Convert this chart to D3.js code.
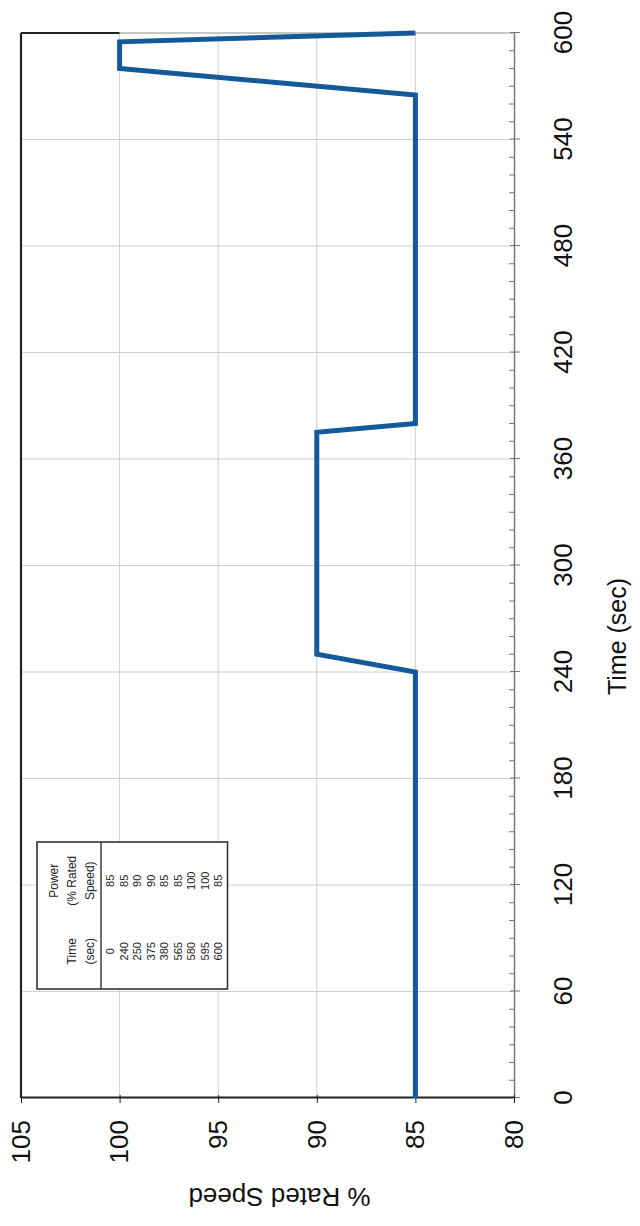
<!DOCTYPE html>
<html>
<head>
<meta charset="utf-8">
<script src="https://cdn.jsdelivr.net/npm/d3@7"></script>
<style>
  html, body { margin: 0; padding: 0; background: #fff; }
  svg { display: block; font-family: "Liberation Sans", Arial, sans-serif; }
</style>
</head>
<body>
<svg id="chart" width="640" height="1226"></svg>
<script>
// Speed schedule: time (sec) vs. power (% rated speed)
const timeSec = [0, 240, 250, 375, 380, 565, 580, 595, 600];
const ratedSpeed = [85, 85, 90, 90, 85, 85, 100, 100, 85];
const timeTicks = [0, 60, 120, 180, 240, 300, 360, 420, 480, 540, 600];
const speedTicks = [80, 85, 90, 95, 100, 105];
const headerTime = ["Time", "(sec)"];
const headerPower = ["Power", "(% Rated", "Speed)"];

const svg = d3.select("#chart");

// The chart is laid out in its natural orientation (time across, speed up)
// and then turned a quarter-turn counter-clockwise onto the page.
const W = 1065, H = 493;
const originX = 21, originY = 1098;
const g = svg.append("g")
  .attr("transform", `translate(${originX},${originY}) rotate(-90)`);

const x = d3.scaleLinear().domain([0, 600]).range([0, W]);
const y = d3.scaleLinear().domain([80, 105]).range([H, 0]);

const gridColor = "#cfcfcf";

// gridlines
g.append("g").selectAll("line.vg")
  .data(timeTicks.filter(t => t > 0 && t < 600))
  .join("line")
  .attr("x1", d => x(d)).attr("x2", d => x(d))
  .attr("y1", 0).attr("y2", H)
  .attr("stroke", gridColor).attr("stroke-width", 1);
g.append("g").selectAll("line.hg")
  .data(speedTicks.filter(s => s > 80 && s < 105))
  .join("line")
  .attr("x1", 0).attr("x2", W)
  .attr("y1", d => y(d)).attr("y2", d => y(d))
  .attr("stroke", gridColor).attr("stroke-width", 1);

// plot frame: end of time range (light) and top border (dark)
g.append("line")
  .attr("x1", x(600)).attr("x2", x(600))
  .attr("y1", y(100)).attr("y2", H)
  .attr("stroke", "#b5b5b5").attr("stroke-width", 1.5);
g.append("line")
  .attr("x1", x(600)).attr("x2", x(600))
  .attr("y1", 0).attr("y2", y(100))
  .attr("stroke", "#222").attr("stroke-width", 2);
g.append("line")
  .attr("x1", 0).attr("x2", W)
  .attr("y1", 0).attr("y2", 0)
  .attr("stroke", "#222").attr("stroke-width", 2.2);

// time axis (minor ticks every 10 s, inward)
const minor = d3.range(0, 601, 10).filter(t => t % 60 !== 0);
g.append("g").selectAll("line.mt")
  .data(minor)
  .join("line")
  .attr("x1", d => x(d)).attr("x2", d => x(d))
  .attr("y1", H - 5).attr("y2", H)
  .attr("stroke", "#777").attr("stroke-width", 1);

const xAxis = g.append("g")
  .attr("transform", `translate(0,${H})`)
  .call(d3.axisBottom(x).tickValues(timeTicks).tickSize(6).tickPadding(34).tickSizeOuter(0));
xAxis.select(".domain").attr("stroke", "#777").attr("stroke-width", 1.5);
xAxis.selectAll(".tick line").attr("stroke", "#777").attr("y1", -4);
xAxis.selectAll(".tick text")
  .attr("font-size", 26).attr("fill", "#111")
  .attr("font-family", "Liberation Sans, Arial, sans-serif");

// speed axis
const yAxis = g.append("g")
  .call(d3.axisLeft(y).tickValues(speedTicks).tickSize(5).tickPadding(17).tickSizeOuter(0));
yAxis.select(".domain").attr("stroke", "#222").attr("stroke-width", 2);
yAxis.selectAll(".tick line").attr("stroke", "#222").attr("x2", 3).attr("x1", -5);
yAxis.selectAll(".tick text")
  .attr("font-size", 26).attr("fill", "#111")
  .attr("font-family", "Liberation Sans, Arial, sans-serif");

// axis titles
g.append("text")
  .attr("x", x(260)).attr("y", H + 112)
  .attr("text-anchor", "middle")
  .attr("font-size", 25).attr("fill", "#111")
  .text("Time (sec)");
g.append("text")
  .attr("transform", `translate(${-90},${H / 2 + 12}) rotate(-90)`)
  .attr("text-anchor", "middle")
  .attr("font-size", 26).attr("fill", "#111")
  .text("% Rated Speed");

// speed trace
const pts = timeSec.map((t, i) => [t, ratedSpeed[i]]);
g.append("path")
  .datum(pts)
  .attr("fill", "none")
  .attr("stroke", "#14599a")
  .attr("stroke-width", 5)
  .attr("stroke-linejoin", "miter")
  .attr("d", d3.line().x(d => x(d[0])).y(d => y(d[1])));

// schedule table
const tb = { x0: 109, x1: 256, y0: 16, hdr: 80, row: 13.5 };
const colMid = [(tb.x0 + (tb.x0 + tb.x1) / 2) / 2 + 1, ((tb.x0 + tb.x1) / 2 + tb.x1) / 2 - 2];
const tblBottom = tb.hdr + 9 + timeSec.length * tb.row - 4;
const table = g.append("g");
table.append("rect")
  .attr("x", tb.x0).attr("y", tb.y0)
  .attr("width", tb.x1 - tb.x0).attr("height", tblBottom - tb.y0)
  .attr("fill", "#fff").attr("stroke", "#333").attr("stroke-width", 1.6);
table.append("line")
  .attr("x1", tb.x0).attr("x2", tb.x1)
  .attr("y1", tb.hdr).attr("y2", tb.hdr)
  .attr("stroke", "#333").attr("stroke-width", 1.4);

const hdrFont = 12;
table.selectAll("text.ht")
  .data(headerTime)
  .join("text")
  .attr("x", colMid[0]).attr("y", (d, i) => tb.hdr - 7 - (headerTime.length - 1 - i) * 18)
  .attr("text-anchor", "middle").attr("font-size", hdrFont).attr("fill", "#222")
  .text(d => d);
table.selectAll("text.hp")
  .data(headerPower)
  .join("text")
  .attr("x", colMid[1]).attr("y", (d, i) => tb.hdr - 7 - (headerPower.length - 1 - i) * 18)
  .attr("text-anchor", "middle").attr("font-size", hdrFont).attr("fill", "#222")
  .text(d => d);
table.selectAll("text.vt")
  .data(timeSec)
  .join("text")
  .attr("x", colMid[0]).attr("y", (d, i) => tb.hdr + 13 + i * tb.row)
  .attr("text-anchor", "middle").attr("font-size", 11).attr("fill", "#222")
  .text(d => d);
table.selectAll("text.vp")
  .data(ratedSpeed)
  .join("text")
  .attr("x", colMid[1]).attr("y", (d, i) => tb.hdr + 13 + i * tb.row)
  .attr("text-anchor", "middle").attr("font-size", 11).attr("fill", "#222")
  .text(d => d);
</script>
</body>
</html>
